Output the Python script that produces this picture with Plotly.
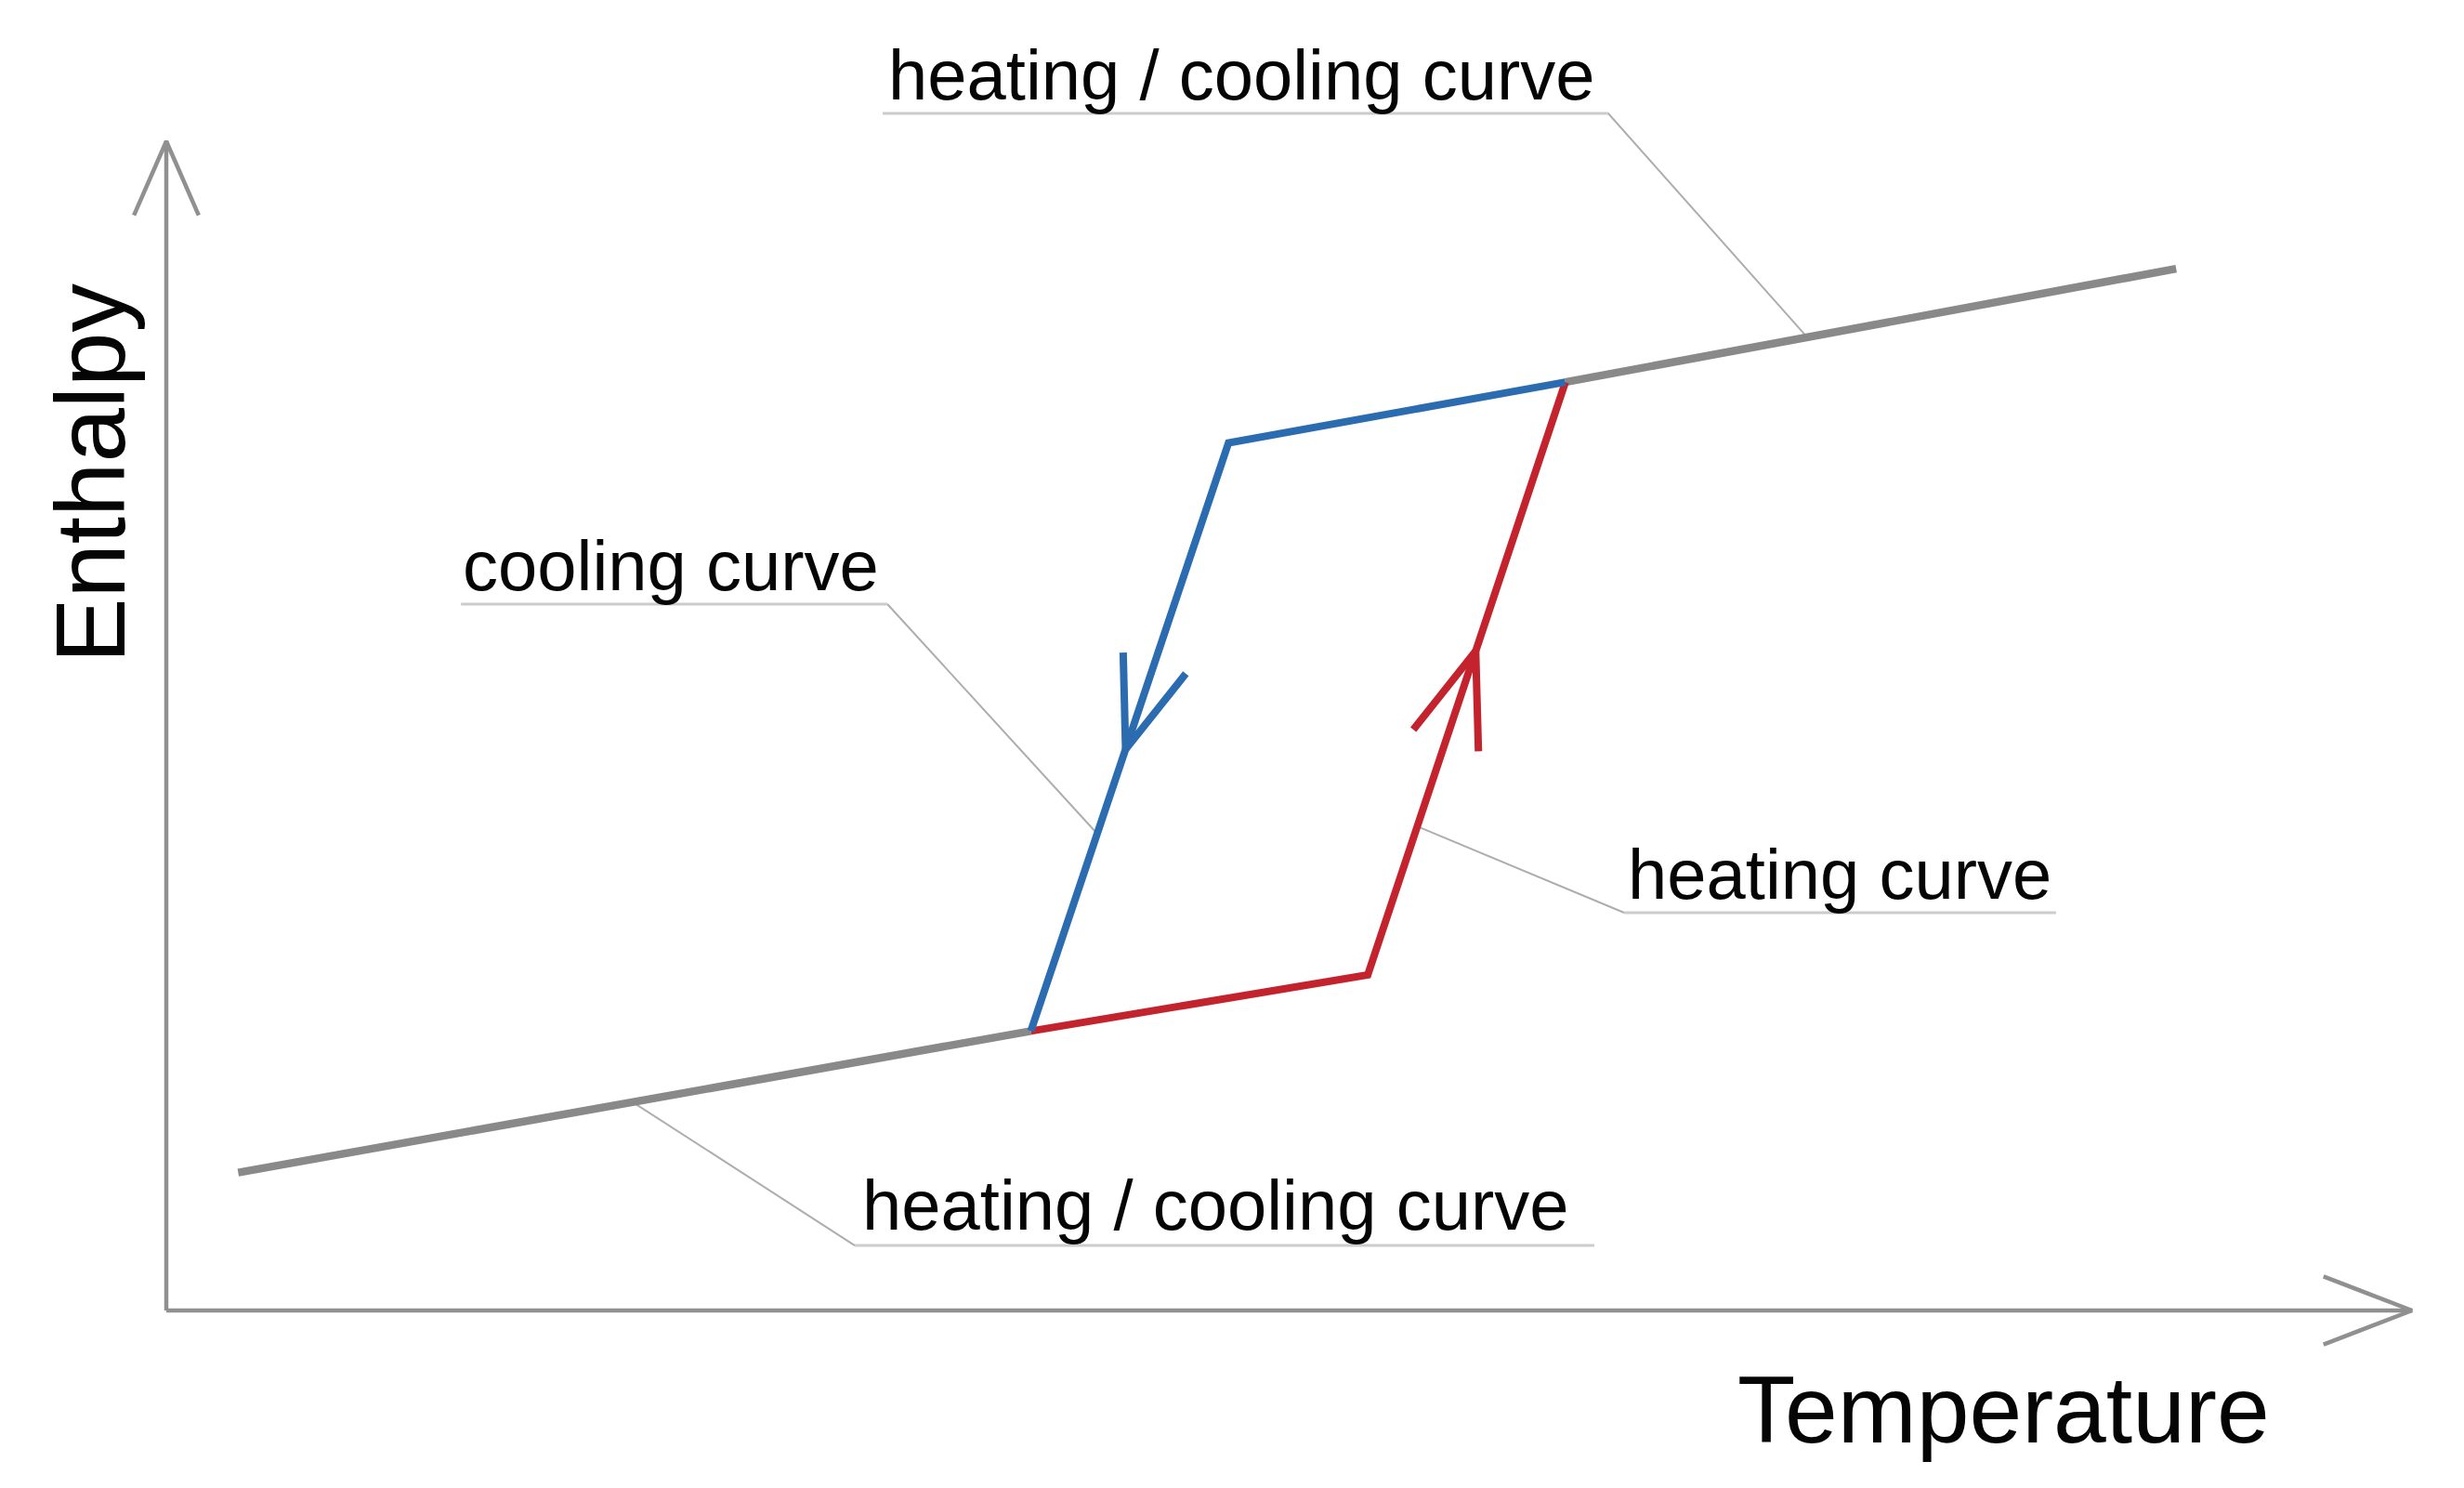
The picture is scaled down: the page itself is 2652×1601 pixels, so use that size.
import numpy as np
import plotly.graph_objects as go

# ---------------- data (schematic units: Temperature 0-100, Enthalpy 0-100) ----------------
lower_T = [3.2, 38.5]
lower_H = [11.8, 23.9]
upper_T = [62.3, 89.5]
upper_H = [79.4, 89.1]
heating_T = [38.5, 53.5, 62.3]
heating_H = [23.9, 28.7, 79.4]
cooling_T = [62.3, 47.3, 38.5]
cooling_H = [79.4, 74.2, 23.9]
axis_max_T = 100
axis_max_H = 100

label_texts = ["heating / cooling curve", "cooling curve", "heating curve", "heating / cooling curve"]
x_title = "Temperature"
y_title = "Enthalpy"

# ---------------- layout geometry ----------------
W, H = 2652, 1601
PXX = 24.17          # pixels per temperature unit
PXY = 12.58          # pixels per enthalpy unit
PAGE_OFFSET = 8      # default body margin of the html page
XR = [(PAGE_OFFSET - 179) / PXX, (PAGE_OFFSET - 179) / PXX + W / PXX]
YR = [(1410 - PAGE_OFFSET) / PXY - H / PXY, (1410 - PAGE_OFFSET) / PXY]

GRAY = "#898989"
BLUE = "#2b6cb0"
RED = "#c3232d"
AXIS = "#909090"
LEADER = "#adadad"
ULINE = "#cccccc"
FONT = "Liberation Sans, Arial, sans-serif"
TXT = "#050505"

fig = go.Figure()


def line(xs, ys, color, width):
    fig.add_trace(go.Scatter(x=xs, y=ys, mode="lines", line=dict(color=color, width=width),
                             hoverinfo="skip", showlegend=False))


def arrowhead(tip, back, length_px, ang_deg, color, width):
    # back: data-space direction pointing from tip back along the line
    bx, by = back[0] * PXX, -back[1] * PXY
    n = np.hypot(bx, by)
    bx, by = bx / n, by / n
    xs, ys = [], []
    for sgn in (1, -1):
        a = np.radians(sgn * ang_deg)
        rx = bx * np.cos(a) - by * np.sin(a)
        ry = bx * np.sin(a) + by * np.cos(a)
        xs.append(tip[0] + rx * length_px / PXX)
        ys.append(tip[1] - ry * length_px / PXY)
    line([xs[0], tip[0], xs[1]], [ys[0], tip[1], ys[1]], color, width)


def on_segment_H(Ts, Hs, i, h):
    # point on segment i..i+1 at enthalpy h
    t = (h - Hs[i]) / (Hs[i + 1] - Hs[i])
    return Ts[i] + t * (Ts[i + 1] - Ts[i]), h


# axes
line([0, axis_max_T], [0, 0], AXIS, 4.5)
line([0, 0], [0, axis_max_H], AXIS, 4.5)
arrowhead((axis_max_T, 0), (-1, 0), 102, 21, AXIS, 4.5)
arrowhead((0, axis_max_H), (0, -1), 87, 23.6, AXIS, 4.5)

# leader lines + underlines
lead_top_T = 73.07
lead_top = (lead_top_T, float(np.interp(lead_top_T, upper_T, upper_H)))
line([lead_top[0], 64.21, 31.90], [lead_top[1], 102.38, 102.38], LEADER, 2)
line([31.90, 64.21], [102.38, 102.38], ULINE, 3)

lead_cool = on_segment_H(cooling_T, cooling_H, 1, 40.78)
line([lead_cool[0], 32.11], [lead_cool[1], 60.41], LEADER, 2)
line([13.12, 32.11], [60.41, 60.41], ULINE, 3)

lead_heat = on_segment_H(heating_T, heating_H, 1, 41.4)
line([lead_heat[0], 64.92], [lead_heat[1], 34.02], LEADER, 2)
line([64.92, 84.15], [34.02, 34.02], ULINE, 3)

lead_bot_T = 20.77
lead_bot = (lead_bot_T, float(np.interp(lead_bot_T, lower_T, lower_H)))
line([lead_bot[0], 30.66], [lead_bot[1], 5.56], LEADER, 2)
line([30.66, 63.59], [5.56, 5.56], ULINE, 3)

# curves
line(lower_T, lower_H, GRAY, 8.5)
line(upper_T, upper_H, GRAY, 8.5)
line(heating_T, heating_H, RED, 8)
line(cooling_T, cooling_H, BLUE, 8)

# direction arrows
tip_c = on_segment_H(cooling_T, cooling_H, 1, 48.0)
arrowhead(tip_c, (cooling_T[1] - cooling_T[2], cooling_H[1] - cooling_H[2]), 104, 20, BLUE, 8)
tip_h = on_segment_H(heating_T, heating_H, 1, 56.4)
arrowhead(tip_h, (heating_T[1] - heating_T[2], heating_H[1] - heating_H[2]), 108, 20, RED, 8)

# labels
lab_pos = [(32.06, 105.69), (13.12, 63.72), (65.0, 37.33), (30.91, 9.03)]
for txt, (lx, ly) in zip(label_texts, lab_pos):
    fig.add_annotation(x=lx, y=ly, text=txt, showarrow=False, xanchor="left", yanchor="middle",
                       font=dict(family=FONT, size=76, color=TXT))

fig.add_annotation(x=81.8, y=-8.53, text=x_title, showarrow=False, xanchor="center", yanchor="middle",
                   font=dict(family=FONT, size=102, color=TXT))
fig.add_annotation(x=-3.41, y=71.62, text=y_title, showarrow=False, textangle=-90,
                   xanchor="center", yanchor="middle",
                   font=dict(family=FONT, size=105, color=TXT))

fig.update_layout(
    width=W, height=H,
    margin=dict(l=0, r=0, t=0, b=0),
    paper_bgcolor="white", plot_bgcolor="white",
    xaxis=dict(range=XR, visible=False, fixedrange=True),
    yaxis=dict(range=YR, visible=False, fixedrange=True),
    showlegend=False,
)

fig.write_html("out.html")
